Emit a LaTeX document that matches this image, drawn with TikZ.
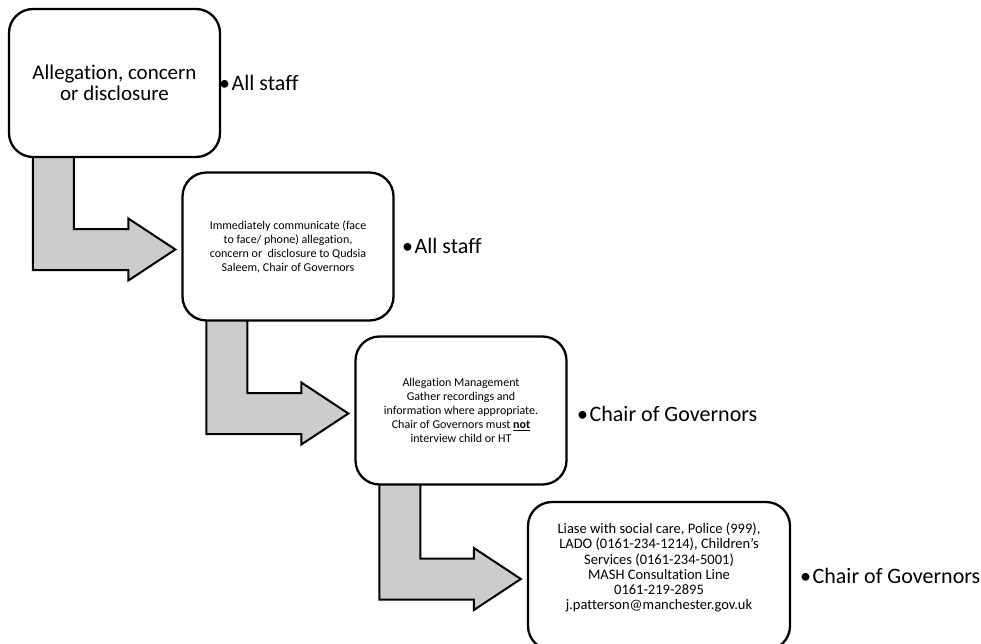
\documentclass[tikz,border=0pt]{standalone}
\usepackage{fontspec}
\setmainfont{Carlito}[Ligatures=CommonOff]
\usepackage{tikz}
\usetikzlibrary{calc,backgrounds}
\definecolor{arrowgrey}{HTML}{CCCCCC}

\tikzset{
    stage/.style={draw, fill=white, line width=2.3pt, rounded corners=24pt,
        minimum width=211pt, minimum height=148pt, align=center, inner sep=4pt},
    role/.style={anchor=west, inner sep=0pt, font=\fontsize{22}{26}\selectfont},
    bentarrow/.style={draw, fill=arrowgrey, line width=2pt, line join=miter},
}

% block arrow: shaft leaves the bottom of #1, head points at #2
\newcommand{\stagearrow}[2]{%
    \coordinate (sl) at ($(#1.south west)+(25,-6)$);
    \coordinate (sr) at ($(#1.south west)+(66,-6)$);
    \coordinate (tip) at ($(#2.west)+(-6,3)$);
    \coordinate (bt) at ($(tip)+(0,-20.5)$);
    \coordinate (bb) at ($(tip)+(-47,20.5)$);
    \draw[bentarrow] (tip) -- ++(-47,-31) -- ++(0,10.5) -- (sr |- bt) -- (sr)
        -- (sl) -- (sl |- bb) -- (bb) -- ++(0,10.5) -- cycle;
}

\begin{document}
\begin{tikzpicture}[x=1pt, y=-1pt]

            \useasboundingbox (0,0) rectangle (981,644);
            \clip (0,0) rectangle (981,644);

            \node[stage, font=\fontsize{21}{21}\selectfont] (s1) at (114.5,83)
                {Allegation, concern\\or disclosure};
            \node[stage, font=\fontsize{12}{14}\selectfont] (s2) at (288,246.5)
                {Immediately communicate (face\\to face/ phone) allegation,\\concern or \ disclosure to Qudsia\\Saleem, Chair of Governors};
            \node[stage, font=\fontsize{12}{14}\selectfont] (s3) at (461,410.5)
                {Allegation Management\\Gather recordings and\\information where appropriate.\\Chair of Governors must \textbf{\underline{not}}\\interview child or HT};
            \node[stage, minimum width=262pt, font=\fontsize{14.5}{15.2}\selectfont] (s4) at (659,576)
                {Liase with social care, Police (999),\\LADO (0161-234-1214), Children's\\Services (0161-234-5001)\\MASH Consultation Line\\0161-219-2895\\j.patterson@manchester.gov.uk\\[4pt]\mbox{}};

            \node[role] (r1) at (219,83) {•\hspace{1.5pt}All staff};
            \node[role] (r2) at (402,246) {•\hspace{1.5pt}All staff};
            \node[role] (r3) at (577,414) {•\hspace{1.5pt}Chair of Governors};
            \node[role] (r4) at (800,576) {•\hspace{1.5pt}Chair of Governors};

            \begin{scope}[on background layer]
                \stagearrow{s1}{s2}
                \stagearrow{s2}{s3}
                \stagearrow{s3}{s4}
            \end{scope}

        \end{tikzpicture}
\end{document}
